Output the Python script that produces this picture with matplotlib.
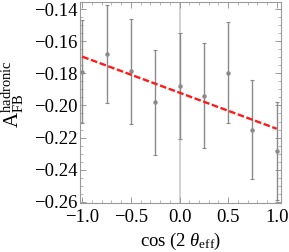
import numpy as np
import matplotlib
matplotlib.use('Agg')
import matplotlib.pyplot as plt
from matplotlib.ticker import MultipleLocator

plt.rcParams['font.family'] = ['Liberation Serif', 'DejaVu Serif']
plt.rcParams['mathtext.fontset'] = 'custom'
plt.rcParams['mathtext.rm'] = 'Liberation Serif'
plt.rcParams['mathtext.it'] = 'Liberation Serif:italic'

# data
cos2theta = [-1.0, -0.75, -0.5, -0.25, 0.0, 0.25, 0.5, 0.75, 1.0]
afb = [-0.179, -0.1677, -0.1788, -0.1981, -0.1879, -0.1938, -0.1796, -0.215, -0.2285]
afb_err = [0.032, 0.0305, 0.033, 0.0327, 0.033, 0.033, 0.0315, 0.031, 0.0305]

fig = plt.figure(figsize=(2.89, 2.52), dpi=100)
ax = fig.add_axes([80 / 289, 1 - 203 / 252, 201 / 289, 201 / 252])

frame = '#9a9a9a'

# axis line at x = 0
ax.axvline(0, color='#cfcfcf', lw=1.3, zorder=1)

ax.errorbar(cos2theta, afb, yerr=afb_err, fmt='o', ms=2.2, color='#8a8a8a',
            ecolor='#8a8a8a', elinewidth=1.0, capsize=1.5, capthick=0.8, zorder=2)

# linear fit
slope, icpt = np.polyfit(cos2theta, afb, 1)
xf = np.array([cos2theta[0], cos2theta[-1]])
ax.plot(xf, slope * xf + icpt, color='#ff1a1a', lw=1.7, ls=(0, (2.8, 1.1)), zorder=3)

ax.set_xlim(-1.024, 1.044)
ax.set_ylim(-0.2608, -0.1355)

ax.xaxis.set_major_locator(MultipleLocator(0.5))
ax.xaxis.set_minor_locator(MultipleLocator(0.1))
ax.yaxis.set_major_locator(MultipleLocator(0.02))
ax.yaxis.set_minor_locator(MultipleLocator(0.005))
ax.xaxis.set_major_formatter(lambda v, p: f'{v:.1f}'.replace('-', '\u2212'))
ax.yaxis.set_major_formatter(lambda v, p: f'{v:.2f}'.replace('-', '\u2212'))

ax.tick_params(which='both', direction='in', top=True, right=True, color=frame,
               labelsize=13.5)
ax.tick_params(axis='x', pad=4)
ax.tick_params(axis='y', pad=2)
ax.tick_params(which='major', length=4, width=0.7)
ax.tick_params(which='minor', length=2, width=0.5)
for s in ax.spines.values():
    s.set_color(frame)
    s.set_linewidth(0.8)

ax.set_xlabel(r'$\mathrm{cos}\ (2\ \theta_{\mathrm{eff}})$', fontsize=13.5, labelpad=4)
ax.set_ylabel(r'$\mathrm{A}_{\mathrm{FB}}^{\mathrm{hadronic}}$', fontsize=15, labelpad=1)
ax.yaxis.set_label_coords(-0.27, 0.54)

fig.savefig('out.png', dpi=100)
plt.close()
